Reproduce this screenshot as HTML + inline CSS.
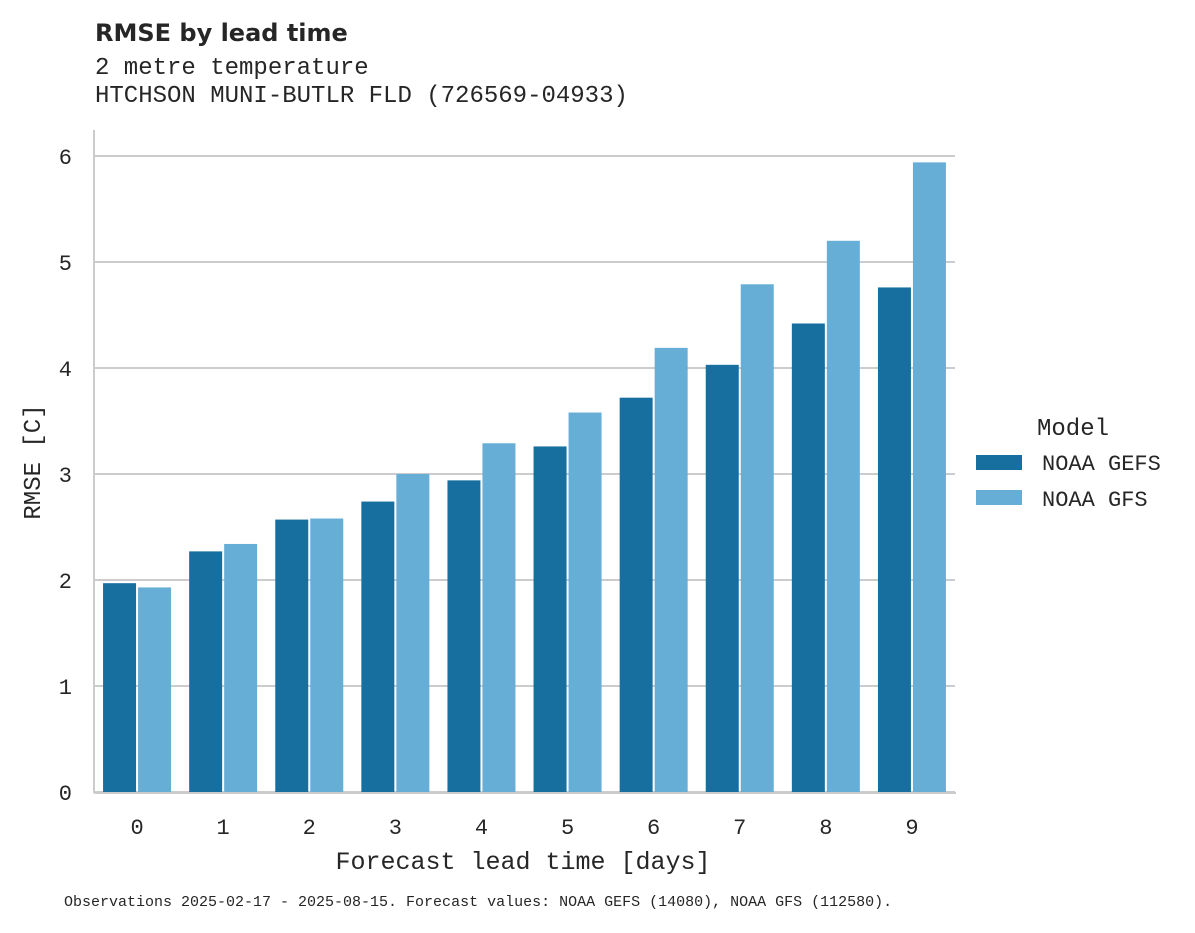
<!DOCTYPE html>
<html><head><meta charset="utf-8"><style>
body{margin:0;background:#fff;}
svg text{fill:#262626;}
.mono{font-family:"Liberation Mono","DejaVu Sans Mono",monospace;}
</style></head><body>
<svg width="1195" height="928" viewBox="0 0 1195 928">
<text x="95" y="41" font-family="DejaVu Sans, Liberation Sans, sans-serif" font-weight="bold" font-size="24">RMSE by lead time</text>
<text x="95" y="74" class="mono" font-size="24">2 metre temperature</text>
<text x="95" y="102" class="mono" font-size="24">HTCHSON MUNI-BUTLR FLD (726569-04933)</text>
<g id="grid"></g>
<g id="bars"></g>
<line x1="94" y1="130" x2="94" y2="793" stroke="#cccccc" stroke-width="2"/>
<line x1="94" y1="793" x2="956" y2="793" stroke="#cccccc" stroke-width="2"/>
<g id="yticks"></g>
<g id="xticks"></g>
<text transform="translate(40,462) rotate(-90)" text-anchor="middle" class="mono" font-size="24">RMSE [C]</text>
<text x="523" y="869" text-anchor="middle" class="mono" font-size="25">Forecast lead time [days]</text>
<g>
<text x="1073" y="435" text-anchor="middle" class="mono" font-size="24">Model</text>
<rect x="976" y="455" width="46" height="15" fill="#176fa0"/>
<text x="1042" y="470" class="mono" font-size="22">NOAA GEFS</text>
<rect x="976" y="490" width="46" height="15" fill="#67aed7"/>
<text x="1042" y="506" class="mono" font-size="22">NOAA GFS</text>
</g>
<text x="64" y="906" class="mono" font-size="15">Observations 2025-02-17 - 2025-08-15. Forecast values: NOAA GEFS (14080), NOAA GFS (112580).</text>
</svg>
<script>
const categories=["0","1","2","3","4","5","6","7","8","9"];
const gefsValues=[1.97,2.27,2.57,2.74,2.94,3.26,3.72,4.03,4.42,4.76];
const gfsValues=[1.93,2.34,2.58,3.00,3.29,3.58,4.19,4.79,5.20,5.94];
const yTicks=[0,1,2,3,4,5,6];
const NS="http://www.w3.org/2000/svg";
const y0=792,pxPer=106,xL=94,step=86.1;
const yS=v=>y0-v*pxPer;
const xC=i=>xL+step*(i+0.5);
function mk(t,a,p){const e=document.createElementNS(NS,t);for(const k in a)e.setAttribute(k,a[k]);p.appendChild(e);return e;}
const grid=document.getElementById('grid'),yt=document.getElementById('yticks'),xt=document.getElementById('xticks'),bars=document.getElementById('bars');
yTicks.forEach(v=>{
 const l=mk('line',{x1:94,x2:955,y1:yS(v),y2:yS(v),stroke:'#cccccc','stroke-width':2},grid);
 
 
 const t=mk('text',{x:72,y:yS(v)+8,'text-anchor':'end','font-size':22,class:'mono'},yt);
 t.textContent=v;
 
 
});
categories.forEach((c,i)=>{
 const cx=xC(i),w=33;
 const b1=mk('rect',{x:cx-w-1,y:yS(gefsValues[i]),width:w,height:gefsValues[i]*pxPer,fill:'#176fa0'},bars);
 
 
 const b2=mk('rect',{x:cx+1,y:yS(gfsValues[i]),width:w,height:gfsValues[i]*pxPer,fill:'#67aed7'},bars);
 
 
 const t=mk('text',{x:cx,y:834,'text-anchor':'middle','font-size':22,class:'mono'},xt);
 t.textContent=c;
 
 
});
</script>
</body></html>
